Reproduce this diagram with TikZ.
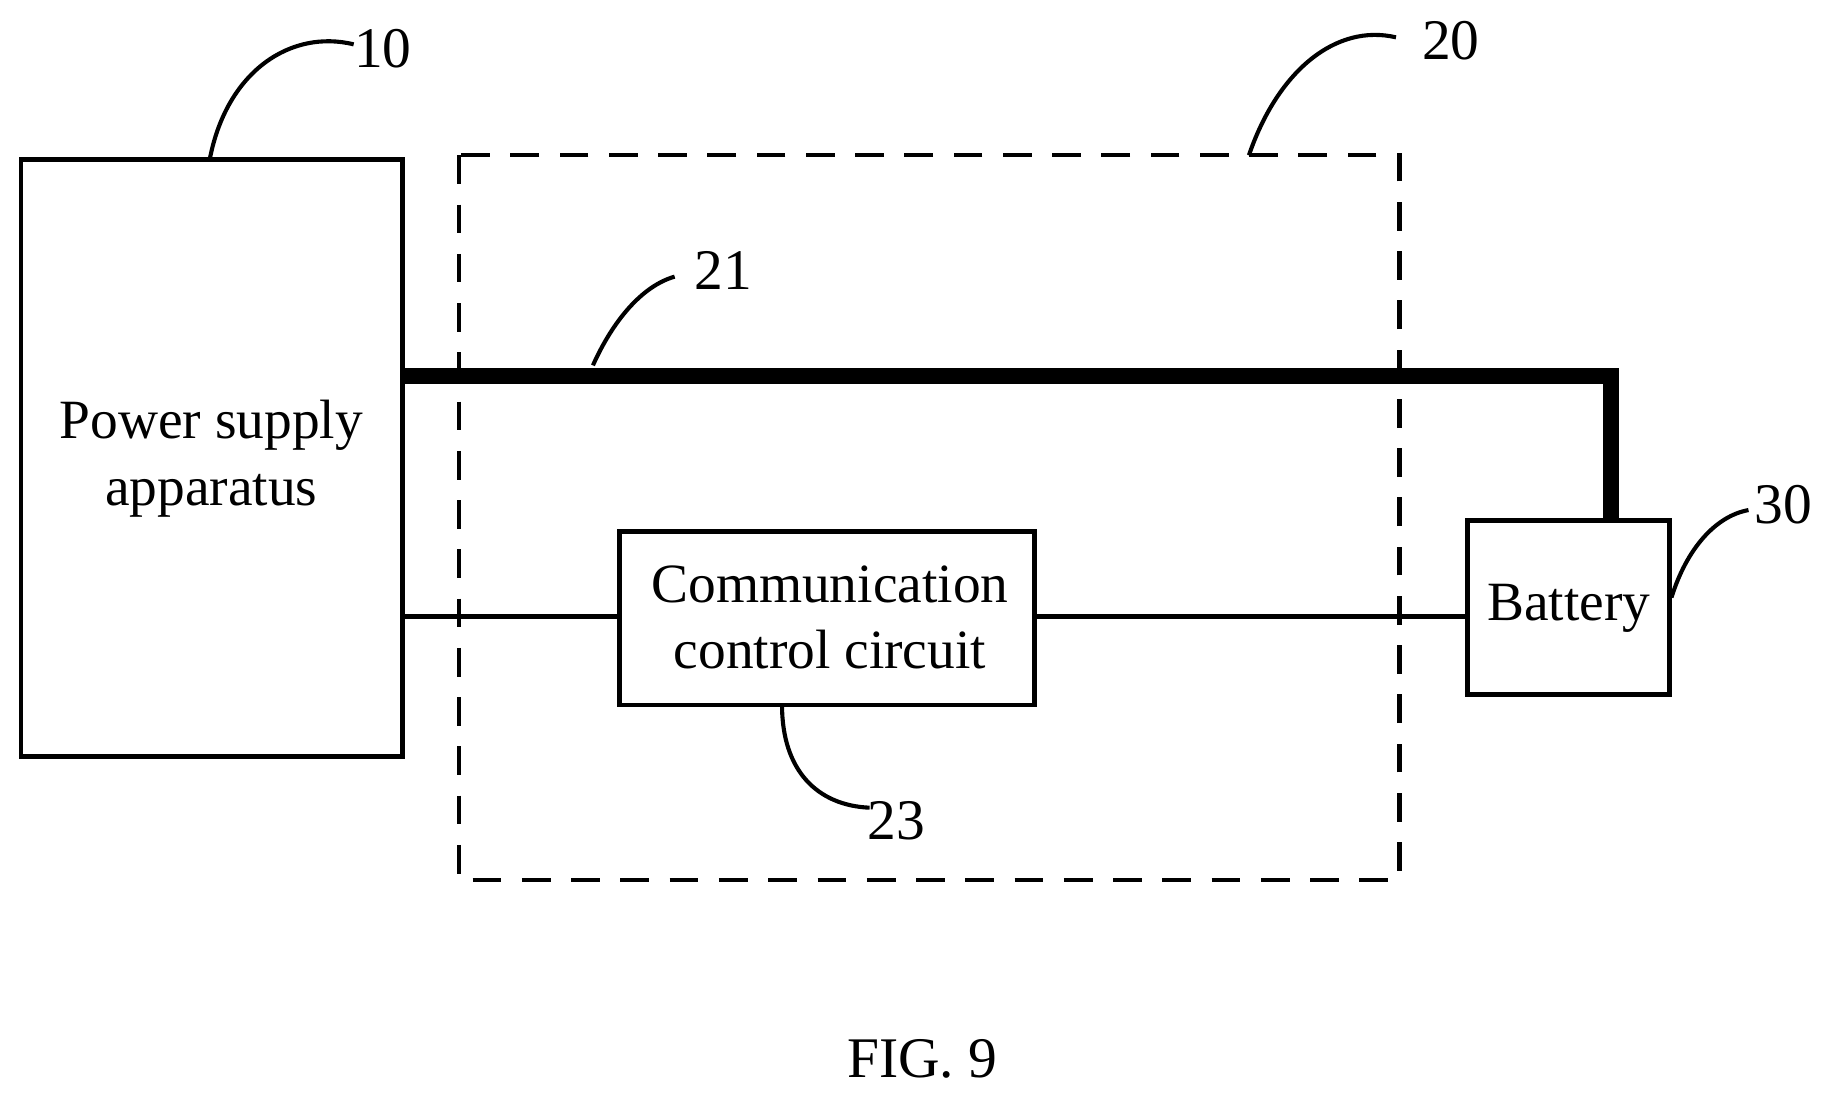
\documentclass[tikz,border=0pt]{standalone}
\usepackage{fontspec}
\setmainfont{Liberation Serif}
\begin{document}
\begin{tikzpicture}[x=0.01cm,y=-0.01cm,
  box/.style={draw,line width=1.2pt,minimum width=0pt},
  lbl/.style={font=\fontsize{14}{16}\selectfont},
  txt/.style={font=\fontsize{13.5}{16.2}\selectfont,align=center},
  lead/.style={line width=1pt}]
\useasboundingbox (0,0) rectangle (1561,936);
\draw[box] (18,137) rectangle (345,648);
\node[txt] (psa) at (181,393) {Power supply\\apparatus};
\draw[line width=1pt,dash pattern=on 7pt off 5pt] (393,133) rectangle (1199,754);
\draw[box] (531,455) rectangle (886,604);
\node[txt] (ccc) at (711,529) {Communication\\control circuit};
\draw[box] (1257,446) rectangle (1430,595);
\node[txt] (bat) at (1344,521) {Battery};
\coordinate (p1) at (345,322); \coordinate (p2) at (1380,322); \coordinate (p3) at (1380,446);
\draw[line width=4pt] (p1) -- (p2) -- (p3);
\coordinate (a1) at (345,528); \coordinate (a2) at (531,528);
\coordinate (b1) at (886,528); \coordinate (b2) at (1257,528);
\draw[line width=1.2pt] (a1) -- (a2) (b1) -- (b2);
\node[lbl] (l10) at (328,42) {10};
\draw[lead] (180,135) .. controls (195,60) and (250,25) .. (303,38);
\node[lbl] (l20) at (1243,35) {20};
\draw[lead] (1070,133) .. controls (1095,60) and (1145,20) .. (1196,32);
\node[lbl] (l21) at (620,232) {21};
\draw[lead] (508,313) .. controls (525,275) and (550,245) .. (578,237);
\node[lbl] (l30) at (1528,432) {30};
\draw[lead] (1432,512) .. controls (1445,470) and (1470,442) .. (1498,437);
\node[lbl] (l23) at (768,703) {23};
\draw[lead] (670,604) .. controls (670,660) and (700,690) .. (745,692);
\node[lbl] (fig) at (790,907) {FIG. 9};
\end{tikzpicture}
\end{document}
